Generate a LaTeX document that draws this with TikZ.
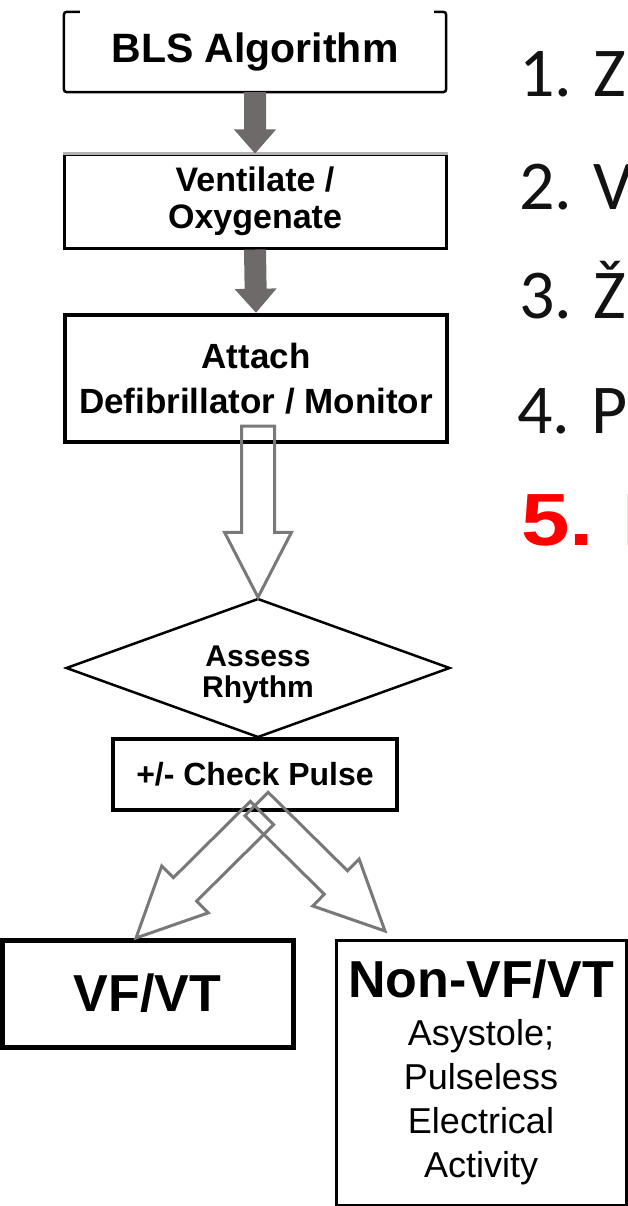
\documentclass[tikz,border=0pt]{standalone}
\usepackage{fontspec}
\setmainfont{Liberation Sans}
\newfontfamily\listfont{Carlito}
\newfontfamily\hotfont{Liberation Sans}[FakeStretch=1.18]
\usetikzlibrary{calc,shapes.geometric}

\definecolor{arrowgray}{HTML}{6E6A6A}
\definecolor{outlinegray}{HTML}{7A7878}
\definecolor{listred}{HTML}{FF0000}

\tikzset{
  box/.style={draw=black, rectangle, inner sep=0pt, align=center},
  solidarrow/.style={fill=arrowgray, draw=none},
  openarrow/.style={draw=outlinegray, line width=3pt, line join=miter},
  listitem/.style={anchor=base west, inner sep=0pt, text=black!93,
    font=\listfont\fontsize{70}{70}\selectfont},
  listhot/.style={anchor=base west, inner sep=0pt, text=listred,
    font=\hotfont\bfseries\fontsize{74}{74}\selectfont},
}

% block arrow: style, from, to, shaft half width, head half width, head length
\newcommand{\blockarrow}[6]{%
  \coordinate (neck) at ($(#3)!#6!(#2)$);
  \draw[#1] ($(#2)!#4!90:(#3)$) -- ($(neck)!#4!90:(#3)$) -- ($(neck)!#5!90:(#3)$) -- (#3)
    -- ($(neck)!#5!-90:(#3)$) -- ($(neck)!#4!-90:(#3)$) -- ($(#2)!#4!-90:(#3)$) -- cycle;
}

\begin{document}
\begin{tikzpicture}[x=1pt,y=1pt,yscale=-1]
    \useasboundingbox (0,0) rectangle (628,1206);
    \clip (0,0) rectangle (628,1206);
    % BLS box, open top
    \node[inner sep=0pt, minimum width=382pt, minimum height=80pt,
      font=\bfseries\fontsize{41}{41}\selectfont] (bls) at (255,52) {BLS Algorithm};
    \draw[line width=2.5pt, rounded corners=3pt] ([xshift=16pt]bls.north west) -- (bls.north west)
      -- (bls.south west) -- (bls.south east) -- (bls.north east) -- ([xshift=-12pt]bls.north east);
    % Ventilate box
    \node[box, line width=3pt, minimum width=382pt, minimum height=93pt,
      font=\bfseries\fontsize{34}{37}\selectfont] (vent) at (255,201.5) {Ventilate /\\Oxygenate};
    \draw[gray!60, line width=3pt] (vent.north west) -- (vent.north east);
    % Attach box
    \node[box, line width=4.5pt, minimum width=382pt, minimum height=127pt,
      font=\bfseries\fontsize{35}{45}\selectfont] (attach) at (256,378.5) {Attach\\Defibrillator / Monitor};
    % Decision
    \node[diamond, draw, line width=2.5pt, shape aspect=2.7, minimum width=384pt, minimum height=139pt,
      inner sep=0pt] (rhythm) at (258,668) {};
    \node[align=center, inner sep=0pt, font=\bfseries\fontsize{30}{31}\selectfont] (rhythmtext)
      at (258,675) {Assess\\Rhythm};
    % Check pulse box
    \node[box, line width=4pt, minimum width=284pt, minimum height=71pt,
      font=\bfseries\fontsize{32}{32}\selectfont] (pulse) at (255,774.5) {+/- Check Pulse};
    % Result boxes
    \node[box, line width=5pt, minimum width=291pt, minimum height=107pt,
      font=\bfseries\fontsize{52}{52}\selectfont] (vfvt) at (147.5,993.5) {VF/VT};
    \node[box, line width=3pt, minimum width=290pt, minimum height=265pt,
      font=\fontsize{36}{44}\selectfont] (nonvf) at (481,1072.5)
      {{\bfseries\fontsize{52}{52}\selectfont Non-VF/VT}\\[4pt]Asystole;\\Pulseless\\Electrical\\Activity};
    % Arrows
    \blockarrow{solidarrow}{bls.south}{vent.north}{11pt}{21pt}{24pt}
    \blockarrow{solidarrow}{vent.south}{attach.north}{11pt}{21pt}{24pt}
    \coordinate (attach-out) at (258,426);
    \blockarrow{openarrow}{attach-out}{rhythm.north}{16.5pt}{33.5pt}{65pt}
    \coordinate (pulse-left) at (262,813);
    \coordinate (vfvt-in) at (136,938);
    \blockarrow{openarrow}{pulse-left}{vfvt-in}{16.5pt}{33pt}{69pt}
    \coordinate (pulse-right) at (256.5,804);
    \coordinate (nonvf-in) at (385,931);
    \blockarrow{openarrow}{pulse-right}{nonvf-in}{16.5pt}{33pt}{69pt}
    % List on the right
    \node[listitem] (item1) at (519,97) {1. Z};
    \node[listitem] (item2) at (519,210) {2. V};
    \node[listitem] (item3) at (519,318) {3. Ž};
    \node[listitem] (item4) at (517,433) {4. P};
    \node[listhot] (item5) at (521,545) {5.};
    \node[listhot] (item5word) at (622.3,545) {I};
\end{tikzpicture}
\end{document}
